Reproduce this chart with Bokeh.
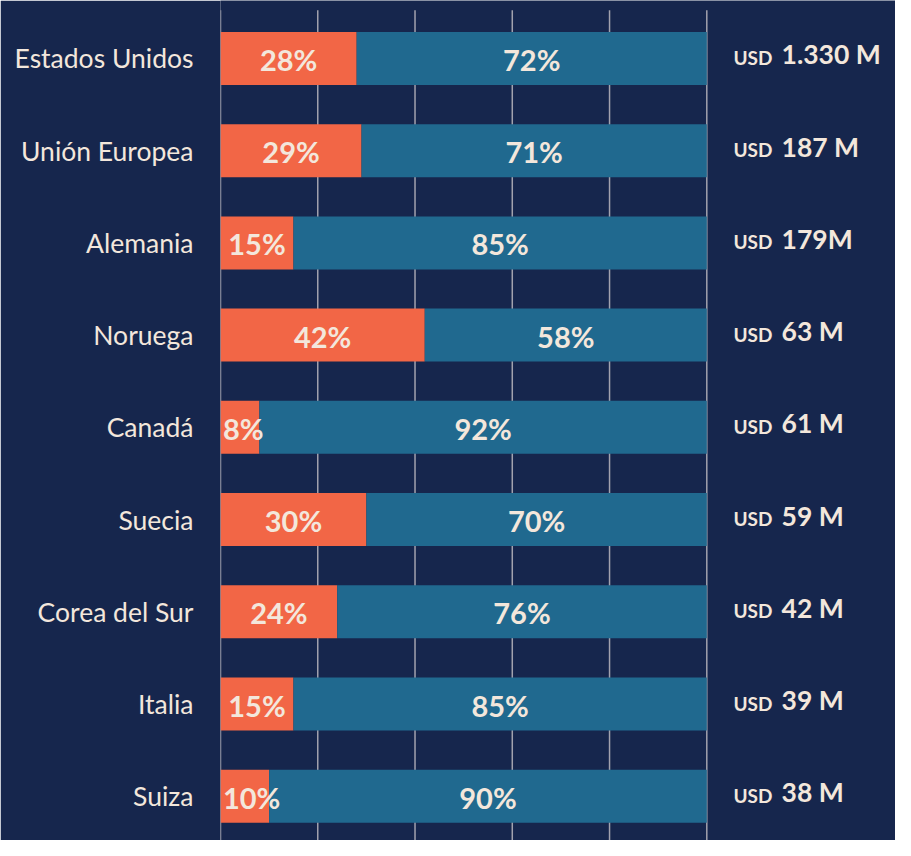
from bokeh.plotting import figure
from bokeh.models import Range1d, FixedTicker, ColumnDataSource
from bokeh.core.properties import value
from bokeh.embed import file_html
from bokeh.resources import INLINE

countries = ["Estados Unidos", "Unión Europea", "Alemania", "Noruega", "Canadá",
             "Suecia", "Corea del Sur", "Italia", "Suiza"]
share_orange = [28, 29, 15, 42, 8, 30, 24, 15, 10]
share_blue = [72, 71, 85, 58, 92, 70, 76, 85, 90]
totals = ["1.330 M", "187 M", "179M", "63 M", "61 M", "59 M", "42 M", "39 M", "38 M"]
grid_ticks = [0, 20, 40, 60, 80, 100]

BG = "#16264d"
ORANGE = "#f26646"
BLUE = "#20698f"
CREAM = "#f3e7dc"
GRID = "#a2a2ae"
FONT = "Lato"

n = len(countries)
idx = list(range(n))

W, H = 895, 840
LEFT = 220
PX = 4.863          # pixels per percent
PITCH = 92.24       # pixels per row
frame_w = W - LEFT
frame_h = H
top_val = -57.9 / PITCH
bottom_val = top_val + frame_h / PITCH
grid_top = top_val + 9.8 / PITCH

p = figure(width=W, height=H, output_backend="svg", toolbar_location=None,
           x_axis_type=None,
           x_range=Range1d(0, frame_w / PX),
           y_range=Range1d(bottom_val, top_val),
           min_border_left=LEFT, min_border_right=0, min_border_top=0,
           min_border_bottom=0)
p.background_fill_color = BG
p.border_fill_color = BG
p.outline_line_color = None
p.ygrid.grid_line_color = None

# vertical gridlines (drawn first so the bars cover them)
p.segment(x0=grid_ticks, x1=grid_ticks, y0=[grid_top] * len(grid_ticks),
          y1=[bottom_val + 1] * len(grid_ticks), line_color=GRID, line_width=1.5)

yax = p.yaxis[0]
yax.ticker = FixedTicker(ticks=idx)
yax.major_label_overrides = {i: c for i, c in enumerate(countries)}
yax.axis_line_color = None
yax.major_tick_line_color = None
yax.minor_tick_line_color = None
yax.major_tick_out = 0
yax.major_tick_in = 0
yax.major_label_standoff = 27
yax.major_label_text_font = FONT
yax.major_label_text_font_size = "26.5px"
yax.major_label_text_color = CREAM

ends = [a + b for a, b in zip(share_orange, share_blue)]
src = ColumnDataSource(dict(
    y=idx, a=share_orange, b=share_blue, end=ends,
    b_lbl=[f"{v}%" for v in share_blue],
    b_x=[a + b / 2 for a, b in zip(share_orange, share_blue)],
    tot=totals,
))

bar_h = 53 / PITCH
p.hbar(y="y", left=0, right="a", height=bar_h, source=src,
       fill_color=ORANGE, line_color=None)
p.hbar(y="y", left="a", right="end", height=bar_h, source=src,
       fill_color=BLUE, line_color=None)

# orange labels: centered, or left-aligned when the segment is narrow
big = [i for i in idx if share_orange[i] > 12]
small = [i for i in idx if share_orange[i] <= 12]
src_big = ColumnDataSource(dict(y=[idx[i] for i in big],
                                x=[share_orange[i] / 2 for i in big],
                                t=[f"{share_orange[i]}%" for i in big]))
src_small = ColumnDataSource(dict(y=[idx[i] for i in small],
                                  x=[0.5 for i in small],
                                  t=[f"{share_orange[i]}%" for i in small]))
common = dict(text_font=value(FONT), text_font_style="bold",
              text_font_size="29px", text_color=CREAM, text_baseline="middle",
              y_offset=1)
p.text(x="x", y="y", text="t", source=src_big, text_align="center", **common)
p.text(x="x", y="y", text="t", source=src_small, text_align="left", **common)
p.text(x="b_x", y="y", text="b_lbl", source=src, text_align="center", **common)

# right-hand totals
usd_x = 105.47
val_x = 115.37
p.text(x=usd_x, y="y", text=value("USD"), source=src, text_font=value(FONT),
       text_font_style="bold", text_font_size="19px", text_color=CREAM,
       text_baseline="middle", y_offset=-1, text_align="left")
p.text(x=val_x, y="y", text="tot", source=src, text_font=value(FONT),
       text_font_style="bold", text_font_size="26.5px", text_color=CREAM,
       text_baseline="middle", y_offset=-4, text_align="left")

open("out.html", "w").write(file_html(p, INLINE))
